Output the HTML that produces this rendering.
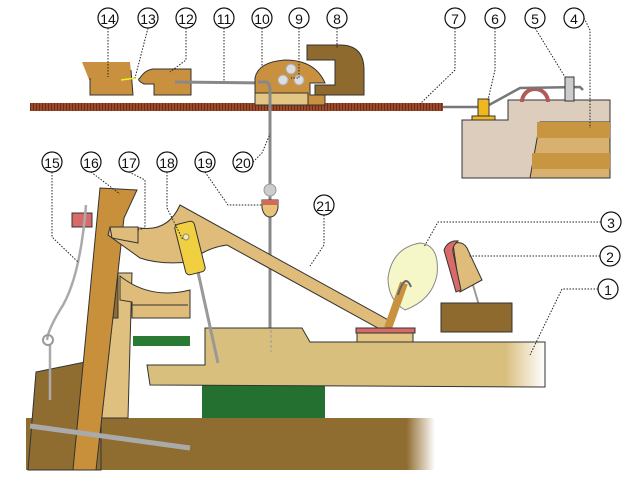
<!DOCTYPE html>
<html><head><style>body{margin:0;background:#fff}svg{display:block}text{font-family:"Liberation Sans",sans-serif;font-size:14px;text-anchor:middle;dominant-baseline:central}</style></head><body>
<svg width="630" height="493" viewBox="0 0 630 493">
<defs>
<linearGradient id="fr" x1="0" x2="1"><stop offset="0.9" stop-color="#d9bf7e"/><stop offset="1" stop-color="#d9bf7e" stop-opacity="0"/></linearGradient>
<linearGradient id="fb" x1="0" x2="1"><stop offset="0.93" stop-color="#8f6c30"/><stop offset="1" stop-color="#8f6c30" stop-opacity="0"/></linearGradient>
<pattern id="st" width="3" height="10" patternUnits="userSpaceOnUse"><rect width="3" height="10" fill="#9a4a2a"/><rect width="1" height="10" fill="#6e2c14"/></pattern>
</defs>
<g stroke="#333" stroke-width="1">
<rect x="30" y="103" width="413" height="8" fill="url(#st)" stroke="none"/>
<line x1="443" y1="107" x2="480" y2="107" stroke="#777" stroke-width="2.5"/>
<path d="M462 120 H508 V100 H610 V178 H462 Z" fill="#dccdbd"/>
<path d="M522 102 A13 13 0 0 1 548 102" fill="none" stroke="#b25a5a" stroke-width="4"/>
<path d="M540 122 H610 V178 H530 Z" fill="#d8b070"/>
<rect x="537" y="122" width="73" height="16" fill="#c89540" stroke="none"/>
<rect x="532" y="153" width="78" height="16" fill="#c89540" stroke="none"/>
<path d="M489 105 L520 88 L580 87 L583 90" fill="none" stroke="#777" stroke-width="2.5"/>
<rect x="565" y="77" width="9" height="24" fill="#ccc"/>
<rect x="478" y="99" width="11" height="17" fill="#f0b820"/>
<rect x="472" y="116" width="23" height="4" fill="#f0b820"/>
<path d="M82 62 H130 L133 95 H90 V82 Z" fill="#c9913f" stroke="none"/>
<path d="M90 78 V95 H133 L131 70" fill="none"/>
<line x1="121" y1="80" x2="136" y2="78" stroke="#ee2" stroke-width="1.5"/>
<path d="M153 69 H191 V95 H154 V84 L144 84 Q136 80 140 78 Q145 70 153 69 Z" fill="#c9913f"/>
<line x1="175" y1="82" x2="270" y2="83" stroke="#888" stroke-width="3"/>
<path d="M255 78 Q258 62 285 60 Q315 60 325 83 H310 V95 H325 V105 H255 Z" fill="#c9913f"/>
<rect x="255" y="93" width="53" height="12" fill="#e3c683"/>
<path d="M258 82 H266 Q270 83 270 90 V345" fill="none" stroke="#888" stroke-width="3"/>
<circle cx="291" cy="69" r="5" fill="#ddd" stroke="#aaa"/><circle cx="283" cy="80" r="5" fill="#ddd" stroke="#aaa"/><circle cx="299" cy="80" r="5" fill="#ddd" stroke="#aaa"/>
<path d="M307 45 H340 Q364 45 364 70 V95 H315 V85 H335 V60 H307 Z" fill="#8f6a2e"/>
<circle cx="270" cy="190" r="6" fill="#ccc" stroke="#999"/>
<path d="M262 200 H278 V208 Q276 217 270 217 Q264 217 262 208 Z" fill="#e6c27a"/>
<rect x="262" y="200" width="16" height="5" fill="#d26a5a" stroke="none"/>
<!-- bottom base -->
<path d="M26 418 H435 V470 H26 Z" fill="url(#fb)" stroke="none"/>
<path d="M36 372 L85 362 L101 378 V470 H28 Z" fill="#8f6c30"/>
<path d="M103 273 H132 L128 418 H101 Z" fill="#e0c07e"/>
<rect x="100" y="273" width="18" height="45" fill="#8f6c30"/>
<path d="M100 188 L137 190 L124 218 L96 470 L73 470 Z" fill="#c9903c"/>
<rect x="72" y="213" width="20" height="14" fill="#d86a6a"/>
<path d="M86 205 Q80 280 60 310 Q48 330 47 340 M50 345 L50 400" fill="none" stroke="#aaa" stroke-width="2.5"/>
<circle cx="48" cy="340" r="5" fill="none" stroke="#999" stroke-width="2"/>
<path d="M30 426 L190 448" stroke="#aaa" stroke-width="5"/>
<!-- wippen -->
<path d="M108 235 L110 227 L140 228 Q168 232 180 205 L392 322 L385 332 L227 245 Q205 248 190 262 Q160 265 140 258 Z" fill="#dfbc7a"/>
<path d="M110 227 H138 V243 L112 238 Z" fill="#dfbc7a"/>
<path d="M120 276 Q150 300 190 290 V318 H132 V302 L120 300 Z" fill="#dfbc7a"/>
<path d="M132 305 H188" fill="none"/>
<rect x="133" y="336" width="57" height="10" fill="#2a7a34" stroke="none"/>
<rect x="202" y="385" width="123" height="33" fill="#237030" stroke="none"/>
<path d="M147 365 H205 V328 H302 L310 342 H545 V387 L150 385 Z" fill="url(#fr)"/>
<line x1="271" y1="330" x2="271" y2="352" stroke="#999" stroke-dasharray="3 2"/>
<line x1="198" y1="272" x2="218" y2="363" stroke="#999" stroke-width="3"/>
<rect x="180" y="222" width="20" height="52" rx="4" fill="#f0d040" transform="rotate(-14 190 248)"/>
<circle cx="186" cy="237" r="3" fill="#f5e8a0" stroke="#888"/>
<!-- hammer -->
<path d="M420 243 Q440 245 437 275 Q432 300 405 310 Q388 300 388 278 Q392 248 420 243 Z" fill="#f5f7c8" stroke="#888"/>
<path d="M388 328 L404 283" stroke="#c99240" stroke-width="8"/>
<path d="M398 295 Q405 272 411 287" fill="none" stroke="#666" stroke-width="2"/>
<rect x="357" y="333" width="56" height="9" fill="#e3c683"/>
<rect x="356" y="328" width="59" height="5" fill="#d86a6a"/>
<line x1="473" y1="285" x2="481" y2="312" stroke="#999" stroke-width="2"/>
<path d="M453 244 Q462 240 467 248 L482 280 L460 292 Z" fill="#dfbc7a"/>
<path d="M444 250 Q448 240 458 241 Q452 246 453 252 L461 290 L456 292 Z" fill="#d86a6a"/>
<rect x="441" y="303" width="71" height="29" fill="#8f6a2e"/>
</g>
<g fill="none" stroke="#222" stroke-dasharray="1.5 1.5">
<path d="M108 28 V77"/><path d="M148 28 L135 78"/><path d="M186 28 V60 L170 72"/><path d="M224 28 V82"/><path d="M262 28 V66"/><path d="M299 28 V78 L291 78"/><path d="M337 28 V48"/>
<path d="M455 28 V70 L420 104"/><path d="M495 28 V70 L488 100"/><path d="M535 28 L565 77"/><path d="M584 18 L590 30 V128"/>
<path d="M52 172 V237 L78 262"/><path d="M91 172 L120 194"/><path d="M129 172 L145 180 V228 L138 230"/><path d="M167 172 V208 L183 240"/><path d="M205 172 L228 205 H262"/><path d="M253 162 L262 153 L270 134"/>
<path d="M324 215 V245 L310 266"/><path d="M601 222 H438 L424 247"/><path d="M600 256 H469"/><path d="M598 289 H562 L530 355"/>
</g>
<g fill="#fff" stroke="#111" stroke-width="1.2">
<circle cx="108" cy="18" r="10"/><circle cx="148" cy="18" r="10"/><circle cx="186" cy="18" r="10"/><circle cx="224" cy="18" r="10"/><circle cx="262" cy="18" r="10"/><circle cx="299" cy="18" r="10"/><circle cx="337" cy="18" r="10"/><circle cx="455" cy="18" r="10"/><circle cx="495" cy="18" r="10"/><circle cx="535" cy="18" r="10"/><circle cx="574" cy="18" r="10"/>
<circle cx="52" cy="162" r="10"/><circle cx="91" cy="162" r="10"/><circle cx="129" cy="162" r="10"/><circle cx="167" cy="162" r="10"/><circle cx="205" cy="162" r="10"/><circle cx="243" cy="162" r="10"/><circle cx="324" cy="205" r="10"/><circle cx="611" cy="222" r="10"/><circle cx="610" cy="256" r="10"/><circle cx="608" cy="289" r="10"/>
</g>
<g fill="#111">
<text x="108" y="19">14</text><text x="148" y="19">13</text><text x="186" y="19">12</text><text x="224" y="19">11</text><text x="262" y="19">10</text><text x="299" y="19">9</text><text x="337" y="19">8</text><text x="455" y="19">7</text><text x="495" y="19">6</text><text x="535" y="19">5</text><text x="574" y="19">4</text>
<text x="52" y="163">15</text><text x="91" y="163">16</text><text x="129" y="163">17</text><text x="167" y="163">18</text><text x="205" y="163">19</text><text x="243" y="163">20</text><text x="324" y="206">21</text><text x="611" y="223">3</text><text x="610" y="257">2</text><text x="608" y="290">1</text>
</g>
</svg>
</body></html>
